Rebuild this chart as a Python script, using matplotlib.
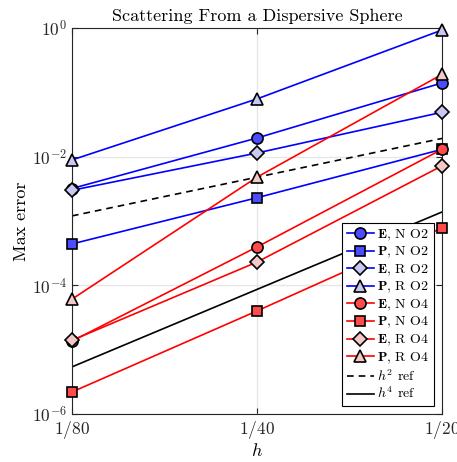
import matplotlib
matplotlib.use("Agg")
import matplotlib.pyplot as plt
import numpy as np

plt.rcParams["font.family"] = "serif"
plt.rcParams["font.serif"] = ["cmr10", "DejaVu Serif"]
plt.rcParams["mathtext.fontset"] = "cm"
plt.rcParams["axes.formatter.use_mathtext"] = True

# Mesh sizes
h = [1/80, 1/40, 1/20]
h_labels = ["$1/80$", "$1/40$", "$1/20$"]

# Max errors, second-order scheme
E_N_O2 = [3.2e-3, 1.95e-2, 1.4e-1]
P_N_O2 = [4.4e-4, 2.3e-3, 1.3e-2]
E_R_O2 = [3.0e-3, 1.14e-2, 4.9e-2]
P_R_O2 = [8.9e-3, 7.9e-2, 9.3e-1]

# Max errors, fourth-order scheme
E_N_O4 = [1.36e-5, 3.95e-4, 1.3e-2]
P_N_O4 = [2.2e-6, 4.0e-5, 7.8e-4]
E_R_O4 = [1.4e-5, 2.3e-4, 7.2e-3]
P_R_O4 = [6.1e-5, 4.8e-3, 1.9e-1]

# Reference slopes
h2_ref = [1.2e-3, 4.8e-3, 1.92e-2]
h4_ref = [5.4e-6, 8.64e-5, 1.38e-3]

blue, red = "#0000ff", "#ff0000"
blue_dark, blue_light = "#4b4bff", "#c8c8f2"
red_dark, red_light = "#ff4b4b", "#f5c8c8"

fig = plt.figure(figsize=(4.57, 4.62), dpi=100)
ax = fig.add_axes([72/457, 48/462, 370/457, 386/462])

series = [
    (E_N_O2, blue, "o", blue_dark, r"$\mathbf{E}$, N O2"),
    (P_N_O2, blue, "s", blue_dark, r"$\mathbf{P}$, N O2"),
    (E_R_O2, blue, "D", blue_light, r"$\mathbf{E}$, R O2"),
    (P_R_O2, blue, "^", blue_light, r"$\mathbf{P}$, R O2"),
    (E_N_O4, red, "o", red_dark, r"$\mathbf{E}$, N O4"),
    (P_N_O4, red, "s", red_dark, r"$\mathbf{P}$, N O4"),
    (E_R_O4, red, "D", red_light, r"$\mathbf{E}$, R O4"),
    (P_R_O4, red, "^", red_light, r"$\mathbf{P}$, R O4"),
]
sizes = {"o": 8, "s": 7, "D": 7, "^": 9}
for vals, lc, m, fc, lab in series:
    ax.plot(h, vals, color=lc, lw=1.2, marker=m, ms=sizes[m],
            mfc=fc, mec="black", mew=1.2, label=lab, clip_on=False, zorder=3)

ax.plot(h, h2_ref, "k--", lw=1.2, dashes=(4, 3), label="$h^2$ ref", zorder=2)
ax.plot(h, h4_ref, "k-", lw=1.2, label="$h^4$ ref", zorder=2)

ax.set_xscale("log")
ax.set_yscale("log")
ax.set_xlim(1/80, 1/20)
ax.set_ylim(1e-6, 1e0)
ax.set_xticks(h)
ax.set_xticklabels(h_labels)
ax.xaxis.set_minor_locator(matplotlib.ticker.NullLocator())
ax.set_yticks([1e-6, 1e-4, 1e-2, 1e0])
ax.yaxis.set_minor_locator(matplotlib.ticker.NullLocator())
ax.tick_params(direction="in", top=True, right=True, length=4,
               labelsize=12.5, colors="#262626", width=0.8)
ax.grid(True, color="#e6e6e6", lw=1.0, zorder=0)
ax.set_axisbelow(True)
for s in ax.spines.values():
    s.set_color("#262626")
    s.set_linewidth(0.8)

ax.set_title("Scattering From a Dispersive Sphere", fontsize=13, pad=5)
ax.set_xlabel("$h$", fontsize=13, labelpad=1)
ax.set_ylabel("Max error", fontsize=13, labelpad=2)

leg = ax.legend(loc="lower right", fontsize=10, frameon=True, fancybox=False,
                framealpha=1, edgecolor="black", borderaxespad=0.6,
                labelspacing=0.17, handlelength=2.0, handletextpad=0.2,
                borderpad=0.3)
leg.get_frame().set_linewidth(0.8)
leg.set_zorder(5)

fig.savefig("out.png", dpi=100)
